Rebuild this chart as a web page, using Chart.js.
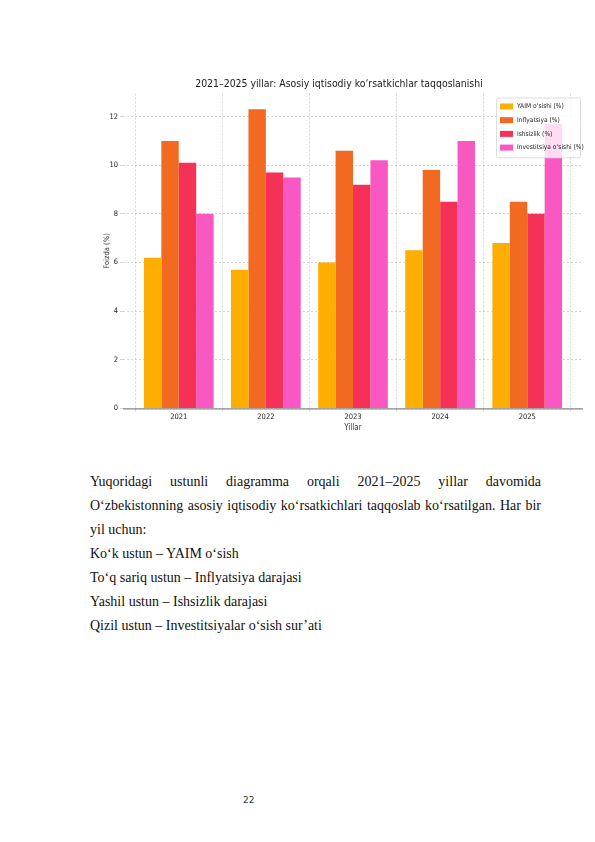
<!DOCTYPE html>
<html>
<head>
<meta charset="utf-8">
<script src="https://cdn.jsdelivr.net/npm/chart.js@4.4.1/dist/chart.umd.min.js"></script>
<style>
  html, body { margin: 0; padding: 0; background: #fff; }
  body { width: 595px; height: 842px; position: relative; overflow: hidden; }
  #wrap { position: absolute; left: 95px; top: 68px; width: 495px; height: 370px; }
  #txt {
    position: absolute; left: 90px; top: 470px; width: 451px;
    font-family: "Liberation Serif", "Times New Roman", serif;
    font-size: 14px; line-height: 24px; color: #111;
  }
  #txt p { margin: 0; white-space: nowrap; }
  #txt .j { text-align: justify; text-align-last: justify; }
  #page {
    position: absolute; left: 243px; top: 795px;
    font-family: "DejaVu Sans", sans-serif; font-size: 9px; color: #333;
  }
</style>
</head>
<body>
<div id="wrap"><canvas id="chart"></canvas></div>
<div id="txt">
  <p class="j">Yuqoridagi ustunli diagramma orqali 2021–2025 yillar davomida</p>
  <p class="j">O‘zbekistonning asosiy iqtisodiy ko‘rsatkichlari taqqoslab ko‘rsatilgan. Har bir</p>
  <p>yil uchun:</p>
  <p>Ko‘k ustun – YAIM o‘sish</p>
  <p>To‘q sariq ustun – Inflyatsiya darajasi</p>
  <p>Yashil ustun – Ishsizlik darajasi</p>
  <p>Qizil ustun – Investitsiyalar o‘sish sur’ati</p>
</div>
<div id="page">22</div>
<script>
// ma'lumotlar
const years = ["2021", "2022", "2023", "2024", "2025"];
const yaim = [6.2, 5.7, 6.0, 6.5, 6.8];
const inflyatsiya = [11.0, 12.3, 10.6, 9.8, 8.5];
const ishsizlik = [10.1, 9.7, 9.2, 8.5, 8.0];
const investitsiya = [8.0, 9.5, 10.2, 11.0, 11.7];
const seriesNames = ["YAIM o‘sishi (%)", "Inflyatsiya (%)", "Ishsizlik (%)", "Investitsiya o‘sishi (%)"];
const yTicks = [0, 2, 4, 6, 8, 10, 12];

const colors = ["#fdae00", "#f26a22", "#f53157", "#f958c3"];
const FONT = "'DejaVu Sans Condensed', 'Liberation Sans Narrow', sans-serif";
const GRID = "rgba(0,0,0,0.16)";

const toPts = (arr) => arr.map((v, i) => ({ x: i, y: v }));

// legend di dalam area plot (kanan atas)
const innerLegend = {
  id: "innerLegend",
  afterDraw(chart) {
    const { ctx, chartArea } = chart;
    const ds = chart.data.datasets;
    ctx.save();
    ctx.font = "6.6px " + FONT;
    const w = 84, rowH = 13.7, h = ds.length * rowH + 5;
    const x = chartArea.right - w - 3, y = chartArea.top + 4;
    ctx.fillStyle = "rgba(255,255,255,0.8)";
    ctx.strokeStyle = "#dddddd";
    ctx.lineWidth = 1;
    ctx.beginPath();
    ctx.roundRect(x + 0.5, y + 0.5, w, h, 2);
    ctx.fill();
    ctx.stroke();
    ds.forEach((d, i) => {
      const ry = y + 4 + i * rowH;
      ctx.fillStyle = d.backgroundColor;
      ctx.fillRect(x + 4, ry + 2, 13, 6);
      ctx.fillStyle = "#222";
      ctx.textBaseline = "middle";
      ctx.fillText(d.label, x + 21, ry + 5);
    });
    ctx.restore();
  },
};

// garis sumbu bawah (solid)
const baseLine = {
  id: "baseLine",
  afterDraw(chart) {
    const { ctx, chartArea } = chart;
    ctx.save();
    ctx.strokeStyle = "#888";
    ctx.lineWidth = 1.2;
    ctx.beginPath();
    ctx.moveTo(chartArea.left, chartArea.bottom + 0.5);
    ctx.lineTo(chartArea.right, chartArea.bottom + 0.5);
    ctx.stroke();
    ctx.restore();
  },
};

new Chart(document.getElementById("chart"), {
  type: "bar",
  data: {
    datasets: [yaim, inflyatsiya, ishsizlik, investitsiya].map((arr, i) => ({
      label: seriesNames[i],
      data: toPts(arr),
      backgroundColor: colors[i],
      borderWidth: 0,
      categoryPercentage: 0.8,
      barPercentage: 1.0,
    })),
  },
  options: {
    responsive: true,
    maintainAspectRatio: false,
    animation: false,
    layout: { padding: { top: 0, right: 7, bottom: 0, left: 0 } },
    plugins: {
      legend: { display: false },
      tooltip: { enabled: false },
      title: {
        display: true,
        text: "2021–2025 yillar: Asosiy iqtisodiy ko‘rsatkichlar taqqoslanishi",
        color: "#1a1a1a",
        font: { family: FONT, size: 10.4, weight: "normal" },
        padding: { top: 10, bottom: 3 },
      },
    },
    scales: {
      x: {
        type: "linear",
        min: -0.64,
        max: 4.64,
        offset: false,
        z: 1,
        grid: { color: GRID, tickLength: 3 },
        border: { display: false, dash: [2, 2] },
        ticks: {
          stepSize: 1,
          includeBounds: false,
          autoSkip: false,
          maxRotation: 0,
          color: "#222",
          font: { family: FONT, size: 7.5 },
          padding: 1,
          callback: (v) => (Number.isInteger(v) ? years[v] : ""),
        },
        title: {
          display: true,
          text: "Yillar",
          color: "#333",
          font: { family: FONT, size: 8 },
          padding: { top: 1, bottom: 5 },
        },
      },
      y: {
        min: 0,
        max: 12.95,
        z: 1,
        grid: { color: GRID, tickLength: 3 },
        border: { display: false, dash: [2, 2] },
        afterBuildTicks: (axis) => {
          axis.ticks = yTicks.map((v) => ({ value: v }));
        },
        afterFit: (axis) => {
          axis.width = 28;
        },
        ticks: {
          color: "#222",
          font: { family: FONT, size: 7.5 },
          padding: 2,
        },
        title: {
          display: true,
          text: "Foizda (%)",
          color: "#333",
          font: { family: FONT, size: 7.5 },
          padding: { top: 8, bottom: 2 },
        },
      },
    },
  },
  plugins: [baseLine, innerLegend],
});
</script>
</body>
</html>
